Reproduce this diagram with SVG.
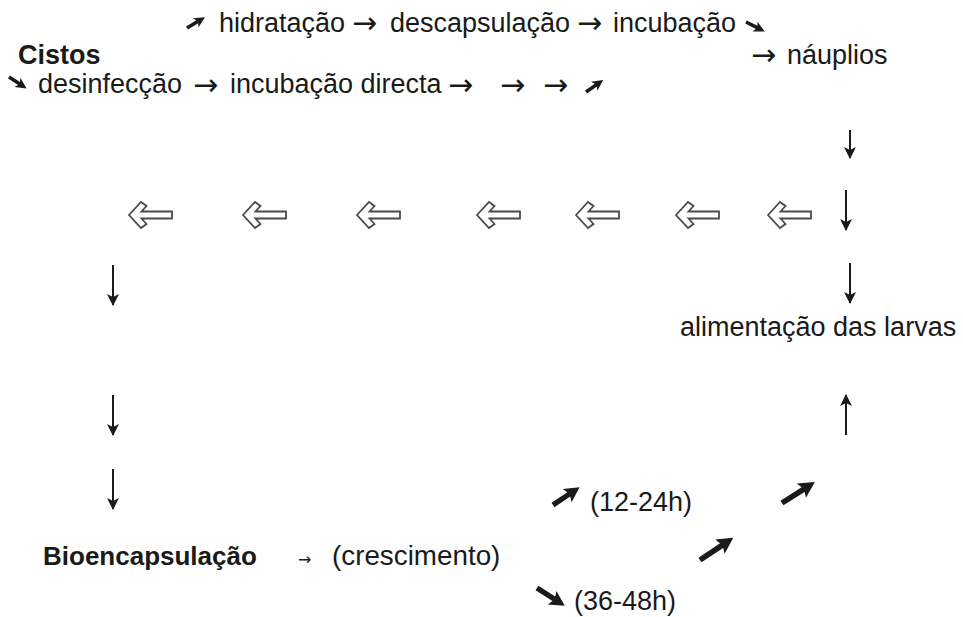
<svg xmlns="http://www.w3.org/2000/svg" width="963" height="617" viewBox="0 0 963 617">
<style>
.t{font-family:"Liberation Sans",Arial,sans-serif;font-size:27px;fill:#1a1a1a}
.b{font-weight:bold}
.a{font-family:"DejaVu Sans",sans-serif;font-size:30px;fill:#1a1a1a}
.v{stroke:#1a1a1a;stroke-width:2;fill:none;marker-end:url(#vh)}
.h{fill:#fff;stroke:#4a4a4a;stroke-width:1.8;stroke-linejoin:miter}
.k{fill:#1a1a1a}
</style>
<defs>
<marker id="vh" markerUnits="userSpaceOnUse" markerWidth="14" markerHeight="14" refX="11" refY="6" orient="auto">
<path d="M0,0 L12,6 L0,12 L3,6 Z" fill="#1a1a1a"/>
</marker>
<path id="hollow" d="M0,0 L12,-13 L17.5,-9 L12.5,-3.5 L43,-3.5 L43,3.5 L12.5,3.5 L17.5,9 L12,13 Z"/>
<path id="mini" d="M0,-1.8 L12,-1.8 L10,-5.5 L21,0 L10,5.5 L12,1.8 L0,1.8 Z"/>
</defs>
<rect width="963" height="617" fill="#fff"/>
<g id="top-line">
<text class="t" x="219" y="32">hidratação</text>
<text class="a" x="352" y="33">→</text>
<text class="t" x="390" y="32">descapsulação</text>
<text class="a" x="577" y="33">→</text>
<text class="t" x="613" y="32">incubação</text>
</g>
<g id="cistos"><text class="t b" x="18" y="64">Cistos</text></g>
<g id="nauplios">
<text class="a" x="751" y="65">→</text>
<text class="t" x="787" y="64">náuplios</text>
</g>
<g id="bottom-line">
<text class="t" x="38" y="93">desinfecção</text>
<text class="a" x="193" y="95">→</text>
<text class="t" x="230" y="93">incubação directa</text>
<text class="a" x="448" y="95">→</text>
<text class="a" x="500" y="95">→</text>
<text class="a" x="543" y="95">→</text>
</g>
<g id="alimentacao"><text class="t" x="680" y="336">alimentação das larvas</text></g>
<g id="bioencapsulacao">
<text class="t b" x="43" y="565" style="font-size:26px">Bioencapsulação</text>
<text class="a" x="298" y="565" style="font-size:16px">→</text>
<text class="t" x="332" y="565" style="font-size:27.8px">(crescimento)</text>
</g>
<g id="t12"><text class="t" x="590" y="511">(12-24h)</text></g>
<g id="t36"><text class="t" x="574" y="610">(36-48h)</text></g>
<g id="connectors">
<use href="#mini" class="k" transform="translate(187,28) rotate(-31)"/>
<use href="#mini" class="k" transform="translate(746,22) rotate(27)"/>
<use href="#mini" class="k" transform="translate(9,77) rotate(33)"/>
<use href="#mini" class="k" transform="translate(586,92) rotate(-35)"/>
<path class="v" d="M850,130 V158"/>
<path class="v" d="M846,190 V230"/>
<path class="v" d="M850,263 V303"/>
<path class="v" d="M846,435 V395"/>
<path class="v" d="M113,265 V305"/>
<path class="v" d="M113,395 V435"/>
<path class="v" d="M113,469 V509"/>
<use href="#hollow" class="h" x="129" y="215"/>
<use href="#hollow" class="h" x="243" y="215"/>
<use href="#hollow" class="h" x="357" y="215"/>
<use href="#hollow" class="h" x="477" y="215"/>
<use href="#hollow" class="h" x="576" y="215"/>
<use href="#hollow" class="h" x="676" y="215"/>
<use href="#hollow" class="h" x="768" y="215"/>
<path class="k" transform="translate(553,505) rotate(-33.7)" d="M0,-2.6 L19,-2.6 L17,-8 L32,0 L17,8 L19,2.6 L0,2.6 Z"/>
<path class="k" transform="translate(700,560) rotate(-33.7)" d="M0,-2.8 L26,-2.8 L24,-8.5 L40,0 L24,8.5 L26,2.8 L0,2.8 Z"/>
<path class="k" transform="translate(782,503) rotate(-32.5)" d="M0,-2.8 L25,-2.8 L23,-8.5 L39,0 L23,8.5 L25,2.8 L0,2.8 Z"/>
<path class="k" transform="translate(537,588) rotate(32.7)" d="M0,-2.6 L20,-2.6 L18,-8 L33,0 L18,8 L20,2.6 L0,2.6 Z"/>
</g>
</svg>
